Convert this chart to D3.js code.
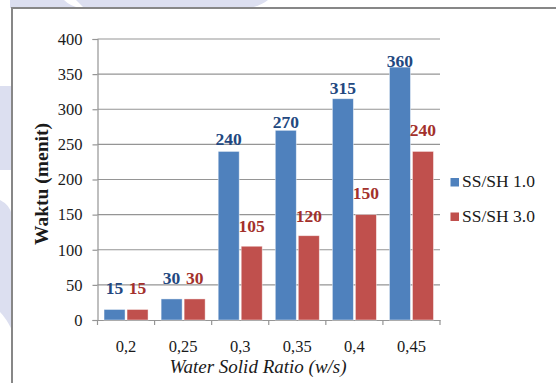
<!DOCTYPE html>
<html>
<head>
<meta charset="utf-8">
<script src="https://cdn.jsdelivr.net/npm/d3@7/dist/d3.min.js"></script>
<style>
  html, body { margin: 0; padding: 0; background: #fff; }
  svg { display: block; }
</style>
</head>
<body>
<script>
// Setting time against water/solid ratio for two SS/SH ratios
const categories = ["0,2", "0,25", "0,3", "0,35", "0,4", "0,45"];
const seriesNames = ["SS/SH 1.0", "SS/SH 3.0"];
const ss1 = [15, 30, 240, 270, 315, 360];
const ss3 = [15, 30, 105, 120, 150, 240];
const yTicks = [0, 50, 100, 150, 200, 250, 300, 350, 400];

// vertical gap between each bar top and its value label
const liftSS1 = [15, 15, 6.5, 2, 4.5, 0];
const liftSS3 = [15, 15, 14.5, 14, 16, 15];

const W = 556, H = 383;
const FONT = "'Liberation Serif', 'Times New Roman', serif";
const colors = ["#4f81bd", "#c0504d"];
const labelColors = ["#23487f", "#a3312c"];

const svg = d3.select("body").append("svg")
  .attr("width", W).attr("height", H);

// faint background shapes behind the chart frame
const wm = svg.append("g").attr("fill", "#dcdff0");
wm.append("path").attr("d", "M10,0 L64,0 Q70,6 80,8 L10,8 Z");
wm.append("path").attr("d", "M76,0 L268,0 Q262,5 250,8 L84,8 Q80,4 76,0 Z");
wm.append("path").attr("d", "M0,86 L12,86 L12,170 L0,170 Z");
wm.append("path").attr("d", "M0,200 Q10,205 12,215 L12,330 Q6,318 0,312 Z");

// chart frame
svg.append("rect")
  .attr("x", 12).attr("y", 8)
  .attr("width", W + 20).attr("height", H + 20)
  .attr("fill", "#fff")
  .attr("stroke", "#878787").attr("stroke-width", 2);

const x = d3.scaleBand().domain(categories).range([97.5, 440]).padding(0);
const xs = d3.scaleBand().domain(seriesNames).range([0, x.bandwidth()])
  .paddingInner(0.087).paddingOuter(0.284);
const y = d3.scaleLinear().domain([0, 400]).range([320, 39]);

// horizontal gridlines
svg.append("g").selectAll("line").data(yTicks.filter(d => d > 0)).join("line")
  .attr("x1", x.range()[0]).attr("x2", x.range()[1])
  .attr("y1", d => y(d)).attr("y2", d => y(d))
  .attr("stroke", "#959595").attr("stroke-width", 1.2);

// y axis
const yAxis = svg.append("g")
  .attr("transform", `translate(${x.range()[0]},0)`)
  .call(d3.axisLeft(y).tickValues(yTicks).tickSize(5).tickPadding(10));
yAxis.select(".domain").attr("stroke", "#959595").attr("stroke-width", 1.2);
yAxis.selectAll(".tick line").attr("stroke", "#959595").attr("stroke-width", 1.2);
yAxis.selectAll(".tick text").attr("font-size", 16.5).attr("fill", "#1a1a1a");

// x axis
const xAxis = svg.append("g")
  .attr("transform", `translate(0,${y(0)})`)
  .call(d3.axisBottom(x).tickSize(0).tickPadding(20));
xAxis.select(".domain").attr("stroke", "#959595").attr("stroke-width", 1.2);
xAxis.selectAll(".tick text").attr("font-size", 16.5).attr("fill", "#1a1a1a");
// boundary ticks between categories
svg.append("g").selectAll("line")
  .data(categories.concat(["end"])).join("line")
  .attr("x1", (d, i) => x.range()[0] + i * x.step())
  .attr("x2", (d, i) => x.range()[0] + i * x.step())
  .attr("y1", y(0)).attr("y2", y(0) + 5)
  .attr("stroke", "#959595").attr("stroke-width", 1.2);

// bars
const series = [ss1, ss3];
const lifts = [liftSS1, liftSS3];
series.forEach((vals, si) => {
  const g = svg.append("g");
  g.selectAll("rect").data(vals).join("rect")
    .attr("x", (d, i) => x(categories[i]) + xs(seriesNames[si]))
    .attr("y", d => y(d))
    .attr("width", xs.bandwidth())
    .attr("height", d => y(0) - y(d))
    .attr("fill", colors[si])
    .attr("stroke", "rgba(255,255,255,0.55)").attr("stroke-width", 0.8);
  g.selectAll("text").data(vals).join("text")
    .attr("x", (d, i) => x(categories[i]) + xs(seriesNames[si]) + xs.bandwidth() / 2)
    .attr("y", (d, i) => y(d) - lifts[si][i])
    .attr("text-anchor", "middle")
    .attr("font-size", 17.5).attr("font-weight", "bold")
    .attr("fill", labelColors[si])
    .text(d => d);
});

// axis titles
svg.append("text")
  .attr("transform", "translate(48,184) rotate(-90)")
  .attr("text-anchor", "middle")
  .attr("font-size", 19.5).attr("font-weight", "bold").attr("fill", "#1a1a1a")
  .text("Waktu (menit)");

svg.append("text")
  .attr("x", 258).attr("y", 373)
  .attr("text-anchor", "middle")
  .attr("font-size", 19).attr("font-style", "italic").attr("fill", "#1a1a1a")
  .text("Water Solid Ratio (w/s)");

// legend
const legend = svg.append("g");
seriesNames.forEach((name, i) => {
  const ly = 187 + i * 34.5;
  legend.append("rect")
    .attr("x", 450.5).attr("y", ly - 9)
    .attr("width", 8.5).attr("height", 8.5)
    .attr("fill", colors[i]);
  legend.append("text")
    .attr("x", 462).attr("y", ly)
    .attr("font-size", 17.5).attr("fill", "#1a1a1a")
    .text(name);
});

svg.selectAll("text").style("font-family", FONT);
</script>
</body>
</html>
